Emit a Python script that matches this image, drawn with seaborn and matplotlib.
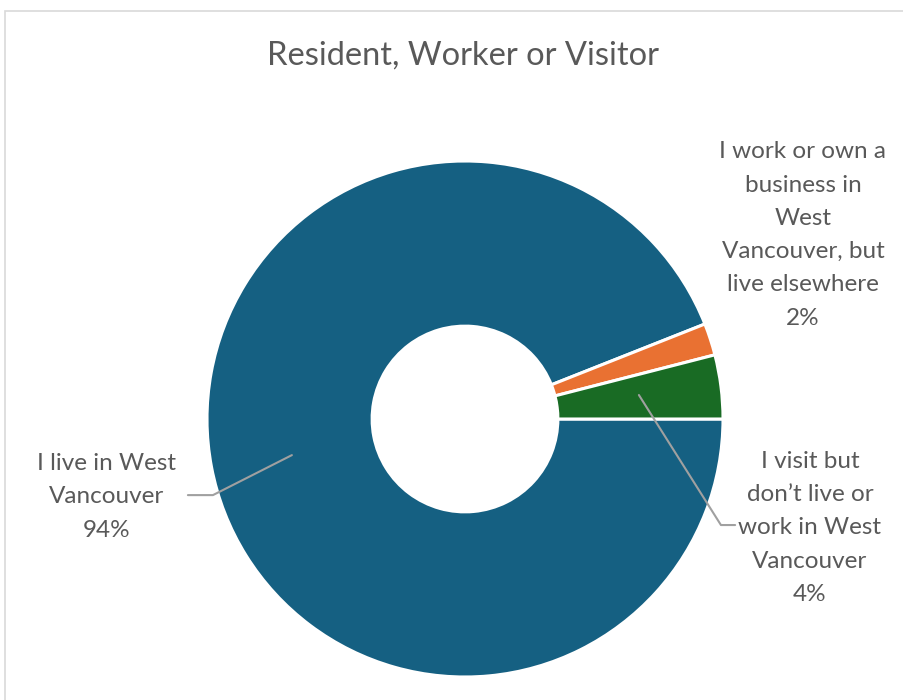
import matplotlib
matplotlib.use("Agg")
import matplotlib.pyplot as plt
from matplotlib import font_manager
from matplotlib.patches import Rectangle
import seaborn as sns

# Survey responses: where respondents live / work
categories = [
    "I live in West\nVancouver",
    "I work or own a\nbusiness in\nWest\nVancouver, but\nlive elsewhere",
    "I visit but\ndon\u2019t live or\nwork in West\nVancouver",
]
shares = [94, 2, 4]
colors = ["#156082", "#E97132", "#196B24"]
title = "Resident, Worker or Visitor"

sns.set_theme(style="white")
installed = {f.name for f in font_manager.fontManager.ttflist}
family = [f for f in ["Lato", "Open Sans", "DejaVu Sans"] if f in installed]
plt.rcParams["font.family"] = family

W, H = 904, 700
fig = plt.figure(figsize=(W / 100, H / 100), dpi=100)
fig.patch.set_facecolor("white")

# light chart-area frame
fig.add_artist(Rectangle((5 / W, -0.1), 1.2, (700 - 11) / H + 0.1,
                         transform=fig.transFigure, fill=False,
                         edgecolor="#D9D9D9", linewidth=1.2))

cx, cy, r = 465, 419, 258
ax = fig.add_axes([(cx - r) / W, (H - cy - r) / H, 2 * r / W, 2 * r / H])
ax.axis("off")

ax.pie(shares, colors=colors, startangle=0, counterclock=False,
       radius=1.0,
       wedgeprops=dict(width=0.64, edgecolor="white", linewidth=2.2))
ax.set_xlim(-1, 1)
ax.set_ylim(-1, 1)
ax.set_aspect("equal")

txt_color = "#595959"
fs = 17.5
label_pos = [(-1.388, -0.302), (1.31, 0.713), (1.337, -0.422)]
for cat, val, (x, y) in zip(categories, shares, label_pos):
    ax.text(x, y, f"{cat}\n{val}%", ha="center", va="center",
            fontsize=fs, color=txt_color, linespacing=1.72, clip_on=False)

# leader lines
lc = "#A0A0A0"
ax.plot([-0.671, -0.977, -1.074], [-0.140, -0.295, -0.295],
        color=lc, lw=1.5, clip_on=False)
ax.plot([0.674, 0.992, 1.047], [0.093, -0.411, -0.411],
        color=lc, lw=1.5, clip_on=False)

fig.text(463 / W, 1 - 56 / H, title, ha="center", va="center",
         fontsize=23.5, color=txt_color)

fig.savefig("out.png", dpi=100, facecolor="white")
